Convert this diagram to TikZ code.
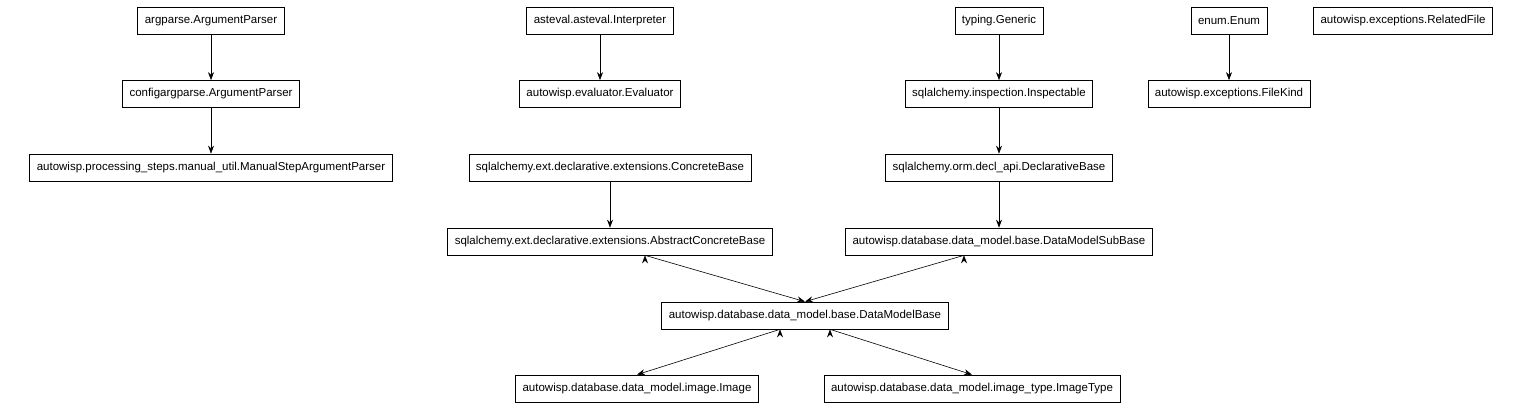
\documentclass[tikz,border=0pt]{standalone}
\usepackage{fontspec}
\setmainfont{Liberation Sans}
\usetikzlibrary{arrows.meta}
\begin{document}
\begin{tikzpicture}[x=1pt,y=-1pt,
  box/.style={draw,line width=0.7pt,inner xsep=7pt,minimum height=27pt,font=\fontsize{11.5}{13}\selectfont},
  arr/.style={-{Stealth[length=8pt,width=6pt]},line width=0.6pt}]
\useasboundingbox (0,0) rectangle (1515,411);
\node[box] (ap) at (211,20.5) {argparse.ArgumentParser};
\node[box] (cap) at (211,94) {configargparse.ArgumentParser};
\node[box] (ms) at (211,167.5) {autowisp.processing\_steps.manual\_util.ManualStepArgumentParser};
\node[box] (ai) at (600,20.5) {asteval.asteval.Interpreter};
\node[box] (ev) at (600,94) {autowisp.evaluator.Evaluator};
\node[box] (tg) at (999,20.5) {typing.Generic};
\node[box] (ins) at (999,94) {sqlalchemy.inspection.Inspectable};
\node[box] (db) at (999,167.5) {sqlalchemy.orm.decl\_api.DeclarativeBase};
\node[box] (en) at (1229,20.5) {enum.Enum};
\node[box] (rf) at (1403,20.5) {autowisp.exceptions.RelatedFile};
\node[box] (fk) at (1229,94) {autowisp.exceptions.FileKind};
\node[box] (cb) at (610,167.5) {sqlalchemy.ext.declarative.extensions.ConcreteBase};
\node[box] (acb) at (610,241.5) {sqlalchemy.ext.declarative.extensions.AbstractConcreteBase};
\node[box] (dsb) at (999,241.5) {autowisp.database.data\_model.base.DataModelSubBase};
\node[box] (dmb) at (805,315.5) {autowisp.database.data\_model.base.DataModelBase};
\node[box] (im) at (637,388.5) {autowisp.database.data\_model.image.Image};
\node[box] (it) at (972,388.5) {autowisp.database.data\_model.image\_type.ImageType};
\draw[arr] (ap) -- (cap);
\draw[arr] (cap) -- (ms);
\draw[arr] (ai) -- (ev);
\draw[arr] (tg) -- (ins);
\draw[arr] (ins) -- (db);
\draw[arr] (en) -- (fk);
\draw[arr] (cb) -- (acb);
\draw[arr] (db) -- (dsb);
\draw[arr] (acb.south) ++(35,0) coordinate (a1);
\draw[arr] (a1) -- (dmb.north);
\draw[arr] (dsb.south) ++(-35,0) coordinate (a2);
\draw[arr] (a2) -- (dmb.north);
\draw[arr] (dmb.south) ++(-25,0) coordinate (b1);
\draw[arr] (b1) -- (im.north);
\draw[arr] (dmb.south) ++(25,0) coordinate (b2);
\draw[arr] (b2) -- (it.north);
\end{tikzpicture}
\end{document}
